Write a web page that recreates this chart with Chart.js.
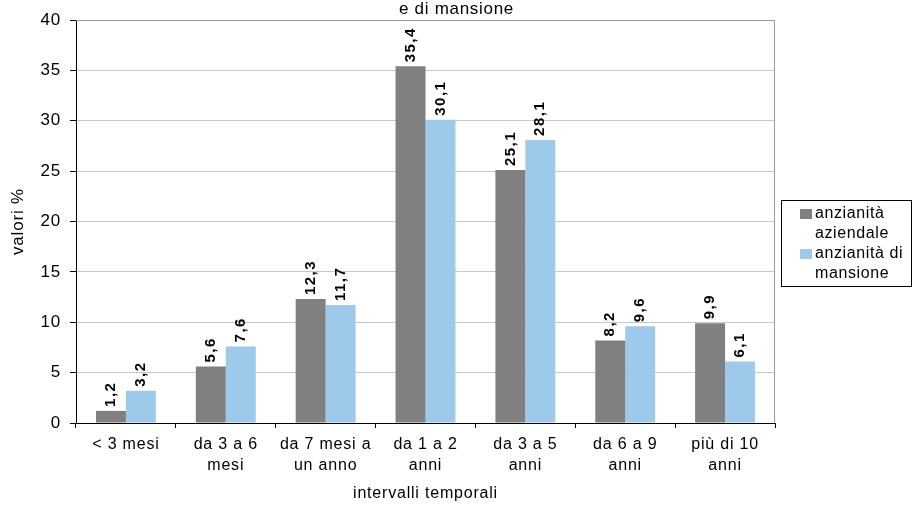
<!DOCTYPE html>
<html>
<head>
<meta charset="utf-8">
<script src="https://cdn.jsdelivr.net/npm/chart.js@4.4.1/dist/chart.umd.min.js"></script>
<style>
  body { margin: 0; background: #fff; }
  #wrap { position: relative; width: 913px; height: 507px; font-family: "Liberation Sans", Arial, sans-serif; }
  #title { position: absolute; left: 0; top: -2px; width: 913px; text-align: center; font-size: 17px; letter-spacing: 0.7px; line-height: 22px; color: #000; }
  #legend { position: absolute; left: 781px; top: 200px; width: 131px; height: 87px; border: 1px solid #000; box-sizing: border-box; padding-top: 2px; font-size: 16px; letter-spacing: 0.6px; line-height: 20px; color: #000; }
  #legend .item { display: flex; align-items: flex-start; }
  #legend .sw { width: 12px; height: 10px; margin: 6px 3px 0 18px; flex: none; }
</style>
</head>
<body>
<div id="wrap">
  <canvas id="chart" width="913" height="507"></canvas>
  <div id="title">e di mansione</div>
  <div id="legend"></div>
</div>
<script>
const categories = [
  ['< 3 mesi'],
  ['da 3 a 6', 'mesi'],
  ['da 7 mesi a', 'un anno'],
  ['da 1 a 2', 'anni'],
  ['da 3 a 5', 'anni'],
  ['da 6 a 9', 'anni'],
  ['più di 10', 'anni']
];
const seriesNames = ['anzianità aziendale', 'anzianità di mansione'];
const aziendale = [1.2, 5.6, 12.3, 35.4, 25.1, 8.2, 9.9];
const mansione = [3.2, 7.6, 11.7, 30.1, 28.1, 9.6, 6.1];
const yTicks = [0, 5, 10, 15, 20, 25, 30, 35, 40];

const colors = ['#808080', '#9dc9eb'];
const FONT = '"Liberation Sans", Arial, sans-serif';

// Excel-like wide text
const spacing = {
  id: 'spacing',
  beforeUpdate(chart) { chart.ctx.letterSpacing = '0.8px'; },
  beforeDraw(chart) { chart.ctx.letterSpacing = '0.8px'; }
};

// gray border around the plot area
const plotBorder = {
  id: 'plotBorder',
  beforeDatasetsDraw(chart) {
    const { ctx, chartArea: a } = chart;
    ctx.save();
    ctx.strokeStyle = '#999';
    ctx.lineWidth = 1;
    ctx.beginPath();
    ctx.moveTo(a.left, a.top + 0.5);
    ctx.lineTo(a.right - 0.5, a.top + 0.5);
    ctx.lineTo(a.right - 0.5, a.bottom);
    ctx.stroke();
    ctx.restore();
  }
};

// rotated value labels above the bars
const valueLabels = {
  id: 'valueLabels',
  afterDatasetsDraw(chart) {
    const ctx = chart.ctx;
    ctx.save();
    ctx.font = 'bold 15px ' + FONT;
    ctx.letterSpacing = '1.5px';
    ctx.fillStyle = '#000';
    ctx.textAlign = 'left';
    ctx.textBaseline = 'middle';
    chart.data.datasets.forEach((ds, i) => {
      chart.getDatasetMeta(i).data.forEach((bar, j) => {
        const txt = ds.data[j].toFixed(1).replace('.', ',');
        ctx.save();
        ctx.translate(bar.x, bar.y - 4);
        ctx.rotate(-Math.PI / 2);
        ctx.fillText(txt, 0, 0);
        ctx.restore();
      });
    });
    ctx.restore();
  }
};

const chart = new Chart(document.getElementById('chart'), {
  type: 'bar',
  data: {
    labels: categories,
    datasets: [
      { label: seriesNames[0], data: aziendale, backgroundColor: colors[0] },
      { label: seriesNames[1], data: mansione, backgroundColor: colors[1] }
    ]
  },
  options: {
    responsive: false,
    animation: false,
    events: [],
    layout: { padding: { left: 0, right: 138, top: 20, bottom: 0 } },
    datasets: { bar: { categoryPercentage: 0.6, barPercentage: 1.0 } },
    plugins: { legend: { display: false }, tooltip: { enabled: false } },
    scales: {
      x: {
        afterFit(scale) { scale.height = 84; },
        grid: { drawOnChartArea: false, drawTicks: true, tickLength: 5, tickColor: '#000' },
        border: { color: '#000', width: 1 },
        ticks: { color: '#000', padding: 6, maxRotation: 0, autoSkip: false, font: { family: FONT, size: 16, lineHeight: 1.3 } },
        title: { display: true, text: 'intervalli temporali', color: '#000', padding: { top: 0, bottom: 3 }, font: { family: FONT, size: 16, lineHeight: 1.3 } }
      },
      y: {
        min: 0,
        max: 40,
        afterFit(scale) { scale.width = 76; },
        afterBuildTicks(scale) { scale.ticks = yTicks.map(v => ({ value: v })); },
        grid: { color: '#c8c8c8', drawTicks: true, tickLength: 6, tickColor: '#000' },
        border: { color: '#000', width: 1 },
        ticks: { color: '#000', padding: 9, font: { family: FONT, size: 17 } },
        title: { display: true, text: 'valori %', color: '#000', padding: { top: 8, bottom: 0 }, font: { family: FONT, size: 17 } }
      }
    }
  },
  plugins: [spacing, plotBorder, valueLabels]
});

// legend with wrapped names, like the original
const legend = document.getElementById('legend');
seriesNames.forEach((name, i) => {
  const item = document.createElement('div');
  item.className = 'item';
  item.innerHTML = `<span class="sw" style="background:${colors[i]}"></span><span>${name}</span>`;
  legend.appendChild(item);
});
</script>
</body>
</html>
